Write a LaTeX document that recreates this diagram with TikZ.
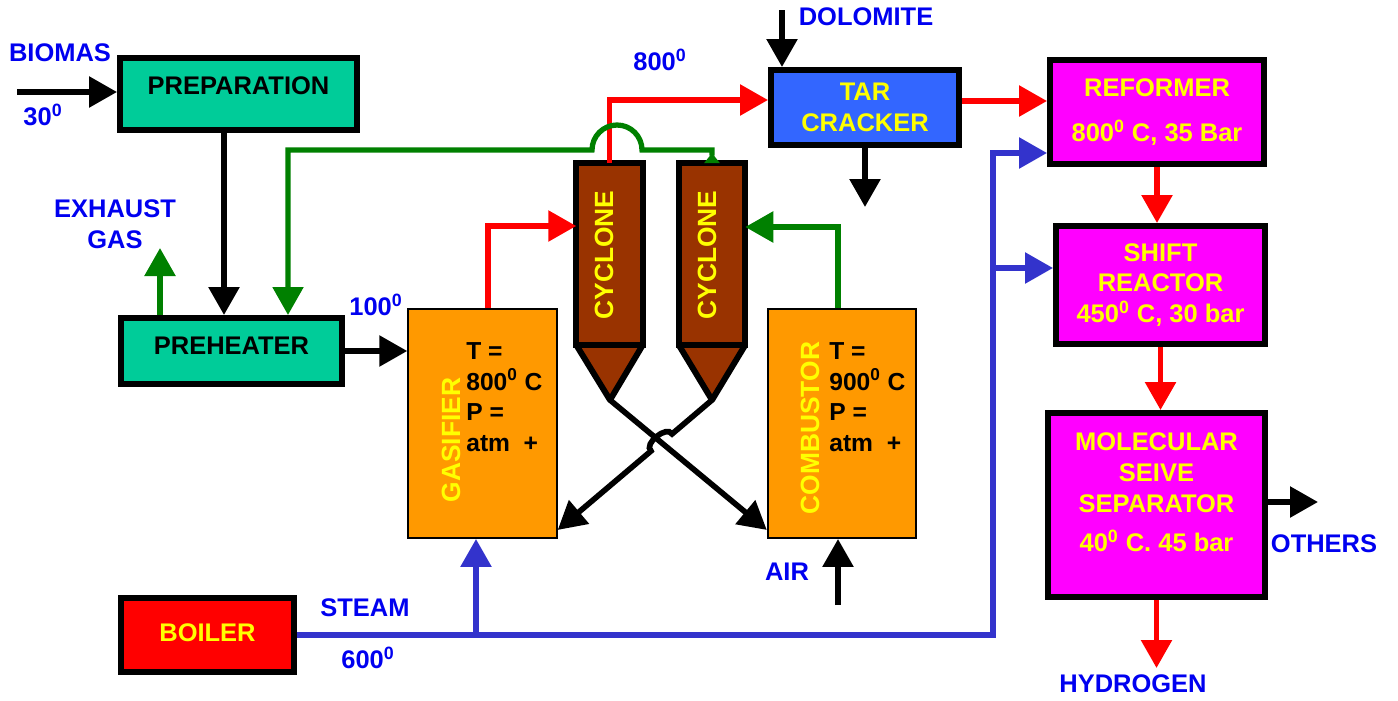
\documentclass[tikz,border=0pt]{standalone}
\usepackage{fontspec}
\setmainfont{Liberation Sans}
\usetikzlibrary{arrows.meta}

\definecolor{boxteal}{HTML}{00CC99}
\definecolor{gasorange}{HTML}{FF9900}
\definecolor{cycbrown}{HTML}{993300}
\definecolor{tarblue}{HTML}{3366FF}
\definecolor{refmagenta}{HTML}{FF00FF}
\definecolor{txtyellow}{HTML}{FFFF00}
\definecolor{lblblue}{HTML}{0000F0}
\definecolor{steamblue}{HTML}{3333CC}
\definecolor{flowgreen}{HTML}{008000}

\tikzstyle{unit} = [rectangle, draw=black, line width=3.4pt, text centered,
font=\fontsize{14.5}{17.5}\selectfont\bfseries, inner sep=2pt]
\tikzstyle{feed} = [unit, fill=boxteal]
\tikzstyle{hot} = [unit, fill=refmagenta, text=txtyellow, align=center]
\tikzstyle{reactor} = [rectangle, draw=black, line width=1.1pt, fill=gasorange,
minimum width=2.97cm, minimum height=4.58cm]
\tikzstyle{cyclone} = [rectangle, draw=black, line width=3.4pt, fill=cycbrown,
outer sep=0pt, minimum width=1.33cm, minimum height=3.64cm]
\tikzstyle{cone} = [draw=black, line width=3.4pt, fill=cycbrown, line join=round]
\tikzstyle{vert} = [rotate=90, text=txtyellow, font=\fontsize{15}{18}\selectfont\bfseries, inner sep=0pt]
\tikzstyle{info} = [align=left, inner sep=0pt, font=\fontsize{14}{17.5}\selectfont\bfseries]
\tikzstyle{lbl} = [text=lblblue, align=center, inner sep=0pt, font=\fontsize{14.5}{17.5}\selectfont\bfseries]
\tikzstyle{arrow} = [line width=3.2pt, -{Triangle[length=0.56cm,width=0.6cm]}]
\tikzstyle{redarrow} = [arrow, draw=red]
\tikzstyle{greenarrow} = [arrow, draw=flowgreen]
\tikzstyle{bluearrow} = [arrow, draw=steamblue]

\begin{document}
\begin{tikzpicture}[x=0.02cm, y=-0.02cm]
\useasboundingbox (0,0) rectangle (1398,700);

% Nodes
\node[feed, text depth=9pt, minimum width=4.74cm, minimum height=1.44cm] (prep) at (238.5,94) {PREPARATION};
\node[feed, text depth=6pt, minimum width=4.42cm, minimum height=1.32cm] (prehtr) at (231.5,351) {PREHEATER};
\node[unit, fill=red, text=txtyellow, text depth=3pt, minimum width=3.46cm, minimum height=1.48cm] (boiler) at (207.5,635) {BOILER};
\node[unit, fill=tarblue, text=txtyellow, align=center, minimum width=3.76cm, minimum height=1.5cm] (tar) at (865,107.5) {TAR\\CRACKER};
\node[hot, minimum width=4.28cm, minimum height=2.08cm] (reformer) at (1157,112) {REFORMER\\[8pt]800\textsuperscript{0} C, 35 Bar};
\node[hot, minimum width=4.18cm, minimum height=2.36cm] (shiftr) at (1160.5,285) {SHIFT\\REACTOR\\450\textsuperscript{0} C, 30 bar};
\node[hot, minimum width=4.34cm, minimum height=3.68cm] (sieve) at (1156.5,505) {MOLECULAR\\SEIVE\\SEPARATOR\\[5pt]40\textsuperscript{0} C. 45 bar\\[-3pt]\mbox{}};

\node[reactor] (gas) at (482.5,423.5) {};
\node[vert] (gasname) at (451,440) {GASIFIER};
\node[info, anchor=north west] (gasinfo) at (466,342) {T =\\800\textsuperscript{0} C\\P =\\atm\ \ +};
\node[reactor] (comb) at (842,423.5) {};
\node[vert] (combname) at (810,428) {COMBUSTOR};
\node[info, anchor=north west] (combinfo) at (829,342) {T =\\900\textsuperscript{0} C\\P =\\atm\ \ +};

\node[cyclone] (cyc1) at (609.5,254) {};
\node[cyclone] (cyc2) at (712,254) {};
\coordinate (tip1) at (610,400);
\coordinate (tip2) at (712,400);
\draw[cone] (cyc1.south west) -- (cyc1.south east) -- (tip1) -- cycle;
\draw[cone] (cyc2.south west) -- (cyc2.south east) -- (tip2) -- cycle;
\node[vert] (cycname1) at (604,255) {CYCLONE};
\node[vert] (cycname2) at (707,255) {CYCLONE};

% Labels
\node[lbl] (biomas) at (60,53) {BIOMAS};
\node[lbl] (t30) at (43,115) {30\textsuperscript{0}};
\node[lbl] (exhaust) at (115,224) {EXHAUST\\GAS};
\node[lbl] (t100) at (376,305) {100\textsuperscript{0}};
\node[lbl] (t800) at (660,60) {800\textsuperscript{0}};
\node[lbl] (dolomite) at (866,17) {DOLOMITE};
\node[lbl] (steam) at (365,608) {STEAM};
\node[lbl] (t600) at (368,658) {600\textsuperscript{0}};
\node[lbl] (air) at (787,572) {AIR};
\node[lbl] (others) at (1324,544) {OTHERS};
\node[lbl] (hydrogen) at (1133,684) {HYDROGEN};

% Free ends and junctions
\coordinate (biostart) at (17,92);
\coordinate (exhend) at (160,248);
\coordinate (dolstart) at (782,10);
\coordinate (tarout) at (865,207);
\coordinate (h2out) at (1156.5,668);
\coordinate (othout) at (1318,502);
\coordinate (airin) at (838,605);
\coordinate (gj) at (476,635);
\coordinate (sj) at (993,635);
\coordinate (shj) at (993,268);

% Arrows
\draw[arrow] (biostart) -- (prep.west |- biostart);
\draw[arrow] (prep.south -| 224,0) -- (prehtr.north -| 224,0);
\draw[greenarrow] (prehtr.north -| 160,0) -- (exhend);
\draw[arrow] (prehtr.east) -- (gas.west |- prehtr.east);
\draw[redarrow] ([xshift=0.11cm]gas.north) |- (cyc1.west |- 0,226);
\draw[greenarrow] ([xshift=-0.08cm]comb.north) |- (cyc2.east |- 0,227);
\draw[redarrow] (cyc1.north) |- (tar.west |- 0,100);
\draw[line width=3pt, draw=flowgreen, {Triangle[reversed,length=0.2cm,width=0.3cm]}-{Triangle[length=0.56cm,width=0.6cm]}]
  (cyc2.north) -- (712,150) -- (642,150) arc[start angle=0, end angle=180, radius=0.5cm]
  -- (288,150) -- (288,0 |- prehtr.north);
\draw[arrow] (tip1) -- ([yshift=0.18cm]comb.south west);
\draw[arrow] (tip2) -- (672,434) to[bend right=100] (651,451) -- ([yshift=0.18cm]gas.south east);
\draw[arrow] (dolstart) -- (dolstart |- tar.north);
\draw[arrow] (tar.south) -- (tarout);
\draw[redarrow] (tar.east |- 0,101) -- (reformer.west |- 0,101);
\draw[redarrow] (reformer.south) -- (reformer.south |- shiftr.north);
\draw[redarrow] (shiftr.south) -- (shiftr.south |- sieve.north);
\draw[redarrow] (sieve.south) -- (h2out);
\draw[arrow] (sieve.east |- othout) -- (othout);
\draw[bluearrow] (boiler.east) -- (sj) |- (reformer.west |- 0,153);
\draw[bluearrow] (shj) -- (shiftr.west |- shj);
\draw[bluearrow] (gj) -- (gj |- gas.south);
\draw[arrow] (airin) -- (airin |- comb.south);

\end{tikzpicture}
\end{document}
